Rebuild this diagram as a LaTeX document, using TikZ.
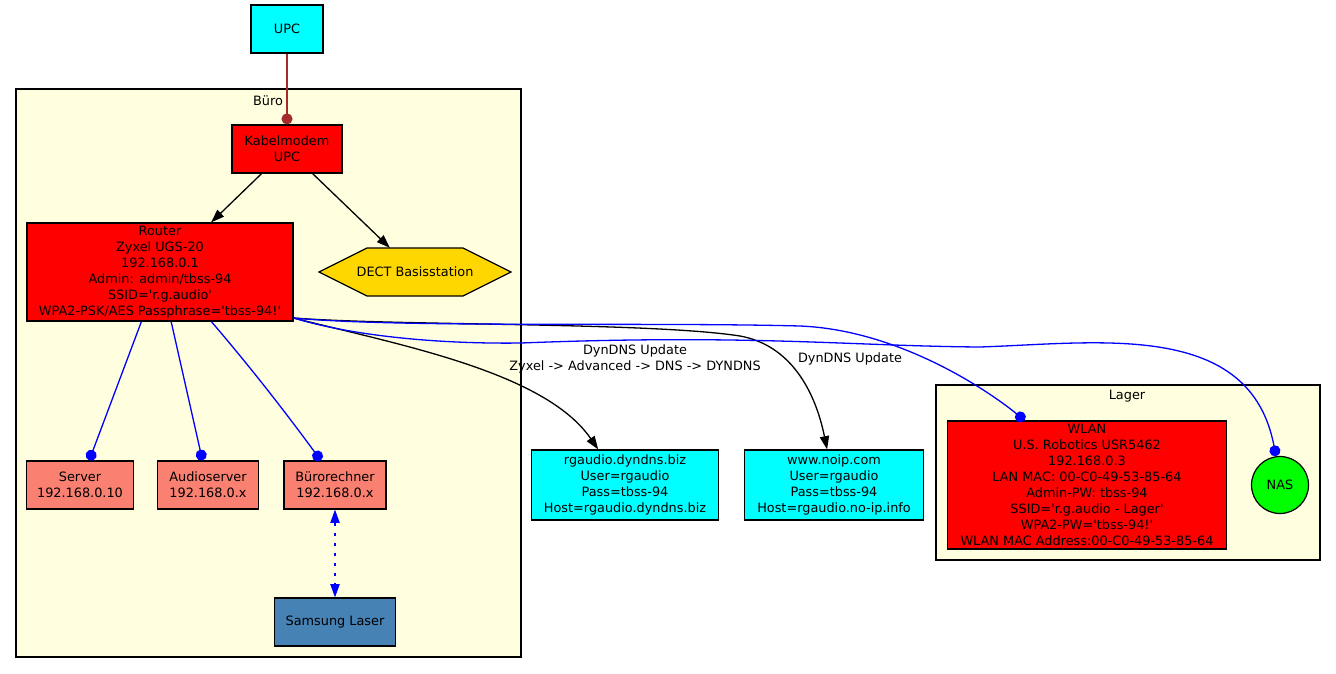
\documentclass[tikz,border=0pt]{standalone}
\usepackage{fontspec}
\setmainfont{DejaVu Sans}
\usepackage{tikz}
\usetikzlibrary{shapes, arrows.meta, positioning}
\definecolor{upccyan}{RGB}{0,255,255}
\definecolor{devred}{RGB}{255,0,0}
\definecolor{pcsalmon}{RGB}{250,128,114}
\definecolor{printblue}{RGB}{70,130,180}
\definecolor{dectgold}{RGB}{255,215,0}
\definecolor{roomyellow}{RGB}{255,255,224}
\definecolor{nasgreen}{RGB}{0,255,0}
\definecolor{cablebrown}{RGB}{165,42,42}
\newcommand{\sq}{\textquotesingle}
\tikzstyle{box} = [rectangle, draw, line width=1.2pt, align=center, inner sep=0pt, minimum height=48pt]
\tikzstyle{room} = [draw, line width=1.2pt, fill=roomyellow]
\tikzstyle{line} = [draw, line width=1.3pt]
\tikzstyle{lan} = [line, blue, -{Circle[length=11pt]}]
\tikzstyle{flow} = [line, black, -{Triangle[length=13.3pt, width=9.3pt]}]

\begin{document}
\begin{tikzpicture}[x=1pt, y=-1pt, font=\fontsize{12.85}{15.9}\selectfont]
			\useasboundingbox (0,0) rectangle (1336,673);
			\draw [room] (16,89) rectangle (521,657);
			\node (bueroname) at (268,101) {Büro};
			\draw [room] (936,385) rectangle (1320,560);
			\node (lagername) at (1127,396) {Lager};

			\node [box, fill=upccyan, minimum width=72pt] (upc) at (287,29) {UPC};
			\node [box, fill=devred, minimum width=110pt] (modem) at (287,149) {Kabelmodem\\UPC};
			\node [box, fill=devred, minimum width=266pt, minimum height=98pt] (router) at (160,272) {Router\\Zyxel UGS-20\\192.168.0.1\\Admin: admin/tbss-94\\SSID=\sq r.g.audio\sq\\WPA2-PSK/AES Passphrase=\sq tbss-94!\sq};
			% hexagon of the DECT station
			\coordinate (dectc) at (415,272);
			\draw [line width=1.2pt, fill=dectgold] (dectc) ++(-96,0) -- ++(48,-24) -- ++(96,0) -- ++(48,24) -- ++(-48,24) -- ++(-96,0) -- cycle;
			\node [inner sep=0pt, minimum width=192pt, minimum height=48pt] (dect) at (dectc) {DECT Basisstation};
			\node [box, fill=pcsalmon, minimum width=107pt] (server) at (80,485) {Server\\192.168.0.10};
			\node [box, fill=pcsalmon, minimum width=101pt] (audio) at (208,485) {Audioserver\\192.168.0.x};
			\node [box, fill=pcsalmon, minimum width=102pt] (office) at (335,485) {Bürorechner\\192.168.0.x};
			\node [box, fill=printblue, minimum width=121pt] (laser) at (335,622) {Samsung Laser};
			\node [box, fill=upccyan, minimum width=187pt, minimum height=70pt] (dyndns) at (625,485) {rgaudio.dyndns.biz\\User=rgaudio\\Pass=tbss-94\\Host=rgaudio.dyndns.biz};
			\node [box, fill=upccyan, minimum width=179pt, minimum height=70pt] (noip) at (834,485) {www.noip.com\\User=rgaudio\\Pass=tbss-94\\Host=rgaudio.no-ip.info};
			\node [box, fill=devred, minimum width=279pt, minimum height=128pt] (wlan) at (1087,485) {WLAN\\U.S. Robotics USR5462\\192.168.0.3\\LAN MAC: 00-C0-49-53-85-64\\Admin-PW: tbss-94\\SSID=\sq r.g.audio - Lager\sq\\WPA2-PW=\sq tbss-94!\sq\\WLAN MAC Address:00-C0-49-53-85-64};
			\node [circle, draw, line width=1.2pt, fill=nasgreen, minimum size=57pt, inner sep=0pt] (nas) at (1280,485) {NAS};

			\node [align=center] (update1) at (635,359) {DynDNS Update\\Zyxel -> Advanced -> DNS -> DYNDNS};
			\node (update2) at (850,358.5) {DynDNS Update};

			\path [line, cablebrown, -{Circle[length=11pt]}] (upc) -- (modem);
			\path [flow] (modem) -- (router);
			\path [flow] (modem) -- (dect);
			\path [lan] (router) -- (server);
			\path [lan] (router) -- (audio);
			\path [lan] (router.316) .. controls (252,369) and (286,413) .. (office.120);
			\path [line, blue, dash pattern=on 3pt off 7pt, {Triangle[length=13.3pt, width=9.3pt]}-{Triangle[length=13.3pt, width=9.3pt]}] (office) -- (laser);
			\path [flow] (router.-19) .. controls (400,345) and (545,372) .. (dyndns.127);
			\path [flow] (router.-19) .. controls (400,326) and (650,322) .. (740,336) .. controls (790,345) and (815,390) .. (noip.101);
			\path [lan] (router.-19) .. controls (400,328) and (650,322) .. (800,326) .. controls (900,330) and (990,392) .. (wlan.134);
			\path [lan] (router.-19) .. controls (360,338) and (450,344) .. (521,343) .. controls (750,334) and (850,346) .. (980,347) .. controls (1100,343) and (1250,320) .. (nas.98);
		\end{tikzpicture}
\end{document}
